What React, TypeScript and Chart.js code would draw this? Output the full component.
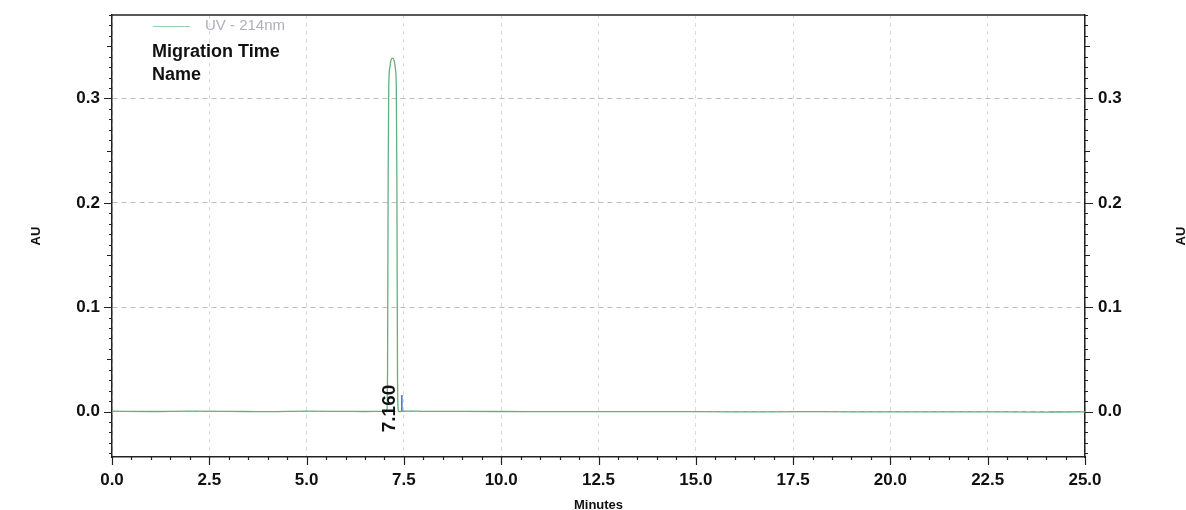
import React, { useEffect, useRef } from "react";
import { Chart, registerables } from "chart.js";

Chart.register(...registerables);

// ---- data ----
const timeMin = [
  0, 1, 2, 3, 4, 5, 6, 6.5, 7.0, 7.06, 7.08, 7.095, 7.11, 7.14, 7.17, 7.21,
  7.25, 7.28, 7.305, 7.32, 7.335, 7.36, 7.5, 8, 9, 10, 12, 14, 16, 18, 20, 22,
  24, 25,
];
const absorbanceAU = [
  0.0003, 0.0, 0.0004, 0.0002, -0.0002, 0.0003, 0.0001, 0.0, 0.0001, 0.0,
  0.04, 0.22, 0.31, 0.33, 0.337, 0.3386, 0.336, 0.329, 0.31, 0.22, 0.04, 0.0,
  0.0004, 0.0002, 0.0001, 0.0, -0.0002, -0.0001, -0.0003, -0.0002, -0.0004,
  -0.0003, -0.0005, -0.0004,
];
const markerTime = [7.447, 7.447];
const markerAU = [0, 0.0158];

const xTicks = [0, 2.5, 5, 7.5, 10, 12.5, 15, 17.5, 20, 22.5, 25];
const yTicks = [0, 0.1, 0.2, 0.3];
const xRange = [0, 25];
const yRange = [-0.0436, 0.38];

const seriesName = "UV - 214nm";
const infoLines = ["Migration Time", "Name"];
const peakLabelText = "7.160";
const peakLabelTime = 7.21;
const xTitle = "Minutes";
const yTitle = "AU";

const FONT = '"Liberation Sans", Arial, sans-serif';
const GREEN = "#63b07f";

const decorPlugin = {
  id: "decor",
  afterDraw(chart: any) {
    const ctx = chart.ctx as CanvasRenderingContext2D;
    const area = chart.chartArea;
    const xs = chart.scales.x;
    const ys = chart.scales.y;
    ctx.save();
    // top border
    ctx.strokeStyle = "#222";
    ctx.lineWidth = 1.5;
    ctx.beginPath();
    ctx.moveTo(area.left, area.top);
    ctx.lineTo(area.right, area.top);
    ctx.stroke();

    // x ticks (outward, below)
    ctx.lineWidth = 1.2;
    ctx.beginPath();
    for (let v = xRange[0]; v <= xRange[1] + 1e-9; v += 0.5) {
      const px = Math.round(xs.getPixelForValue(v)) + 0.5;
      const major = xTicks.some((t) => Math.abs(t - v) < 1e-6);
      const len = major ? 8 : 3;
      ctx.moveTo(px, area.bottom);
      ctx.lineTo(px, area.bottom + len);
    }
    ctx.stroke();

    // y ticks (outward, left and right)
    ctx.beginPath();
    for (let i = -4; i <= 38; i++) {
      const v = i / 100;
      if (v < yRange[0] || v > yRange[1]) continue;
      const py = Math.round(ys.getPixelForValue(v)) + 0.5;
      const len = i % 10 === 0 ? 8 : i % 5 === 0 ? 5 : 3;
      ctx.moveTo(area.left, py);
      ctx.lineTo(area.left - len, py);
      ctx.moveTo(area.right, py);
      ctx.lineTo(area.right + len, py);
    }
    ctx.stroke();

    // legend
    ctx.strokeStyle = "#9fcdab";
    ctx.lineWidth = 1.2;
    ctx.beginPath();
    ctx.moveTo(153, 26.5);
    ctx.lineTo(190, 26.5);
    ctx.stroke();
    ctx.fillStyle = "#aeaebc";
    ctx.font = `15px ${FONT}`;
    ctx.textAlign = "left";
    ctx.textBaseline = "middle";
    ctx.fillText(seriesName, 205, 26);

    // info lines
    ctx.fillStyle = "#111";
    ctx.font = `bold 18px ${FONT}`;
    ctx.textBaseline = "alphabetic";
    ctx.fillText(infoLines[0], 152, 57);
    ctx.fillText(infoLines[1], 152, 80);

    // peak label (rotated)
    const lx = xs.getPixelForValue(peakLabelTime) + 2.5;
    const ly = ys.getPixelForValue(0) - 3;
    ctx.save();
    ctx.translate(lx, ly);
    ctx.rotate(-Math.PI / 2);
    ctx.font = `bold 19px ${FONT}`;
    ctx.textAlign = "center";
    ctx.textBaseline = "alphabetic";
    ctx.fillText(peakLabelText, 0, 0);
    ctx.restore();

    // axis titles
    ctx.font = `bold 13px ${FONT}`;
    ctx.textAlign = "center";
    ctx.textBaseline = "alphabetic";
    ctx.fillText(xTitle, (area.left + area.right) / 2, 509);
    const cy = (area.top + area.bottom) / 2;
    for (const tx of [40, 1185]) {
      ctx.save();
      ctx.translate(tx, cy);
      ctx.rotate(-Math.PI / 2);
      ctx.fillText(yTitle, 0, 0);
      ctx.restore();
    }
    ctx.restore();
  },
};

export default function App() {
  const ref = useRef<HTMLCanvasElement | null>(null);
  useEffect(() => {
    document.body.style.margin = "0";
    const canvas = ref.current;
    if (!canvas) return;
    const tickFont = { family: FONT, size: 17, weight: "bold" as const };
    const fitY = (w: number) => (s: any) => {
      s.width = w;
      s.paddingTop = 0;
      s.paddingBottom = 0;
    };
    const chart = new Chart(canvas, {
      type: "line",
      data: {
        datasets: [
          {
            label: seriesName,
            data: timeMin.map((t, i) => ({ x: t, y: absorbanceAU[i] })),
            borderColor: GREEN,
            borderWidth: 1.3,
            pointRadius: 0,
            cubicInterpolationMode: "monotone",
            fill: false,
          },
          {
            label: "marker",
            data: markerTime.map((t, i) => ({ x: t, y: markerAU[i] })),
            borderColor: "#4a78d8",
            borderWidth: 1.6,
            pointRadius: 0,
            fill: false,
          },
        ],
      },
      options: {
        animation: false,
        responsive: true,
        maintainAspectRatio: false,
        layout: { padding: { top: 15, left: 0, right: 0, bottom: 0 } },
        plugins: { legend: { display: false }, tooltip: { enabled: false } },
        scales: {
          x: {
            type: "linear",
            min: xRange[0],
            max: xRange[1],
            afterBuildTicks: (s: any) => {
              s.ticks = xTicks.map((v) => ({ value: v }));
            },
            afterFit: (s: any) => {
              s.height = 53;
              s.paddingLeft = 0;
              s.paddingRight = 0;
            },
            ticks: {
              font: tickFont,
              color: "#111",
              padding: 13,
              maxRotation: 0,
              autoSkip: false,
              callback: (v: any) => Number(v).toFixed(1),
            },
            grid: {
              color: "#dcdcdc",
              drawTicks: false,
            },
            border: { display: true, color: "#222", width: 1.5, dash: [4, 4] },
          },
          y: {
            type: "linear",
            position: "left",
            min: yRange[0],
            max: yRange[1],
            afterBuildTicks: (s: any) => {
              s.ticks = yTicks.map((v) => ({ value: v }));
            },
            afterFit: fitY(112),
            ticks: {
              font: tickFont,
              color: "#111",
              padding: 12,
              callback: (v: any) => Number(v).toFixed(1),
            },
            grid: { color: "#bdbdbd", drawTicks: false },
            border: { display: true, color: "#222", width: 1.5, dash: [5, 4] },
          },
          y2: {
            type: "linear",
            position: "right",
            min: yRange[0],
            max: yRange[1],
            afterBuildTicks: (s: any) => {
              s.ticks = yTicks.map((v) => ({ value: v }));
            },
            afterFit: fitY(101),
            ticks: {
              font: tickFont,
              color: "#111",
              padding: 13,
              callback: (v: any) => Number(v).toFixed(1),
            },
            grid: { display: false, drawTicks: false },
            border: { display: true, color: "#222", width: 1.5 },
          },
        },
      },
      plugins: [decorPlugin],
    } as any);
    return () => chart.destroy();
  }, []);
  return (
    <div style={{ position: "fixed", left: 0, top: 0, width: 1186, height: 510, background: "#fff" }}>
      <canvas ref={ref} />
    </div>
  );
}
